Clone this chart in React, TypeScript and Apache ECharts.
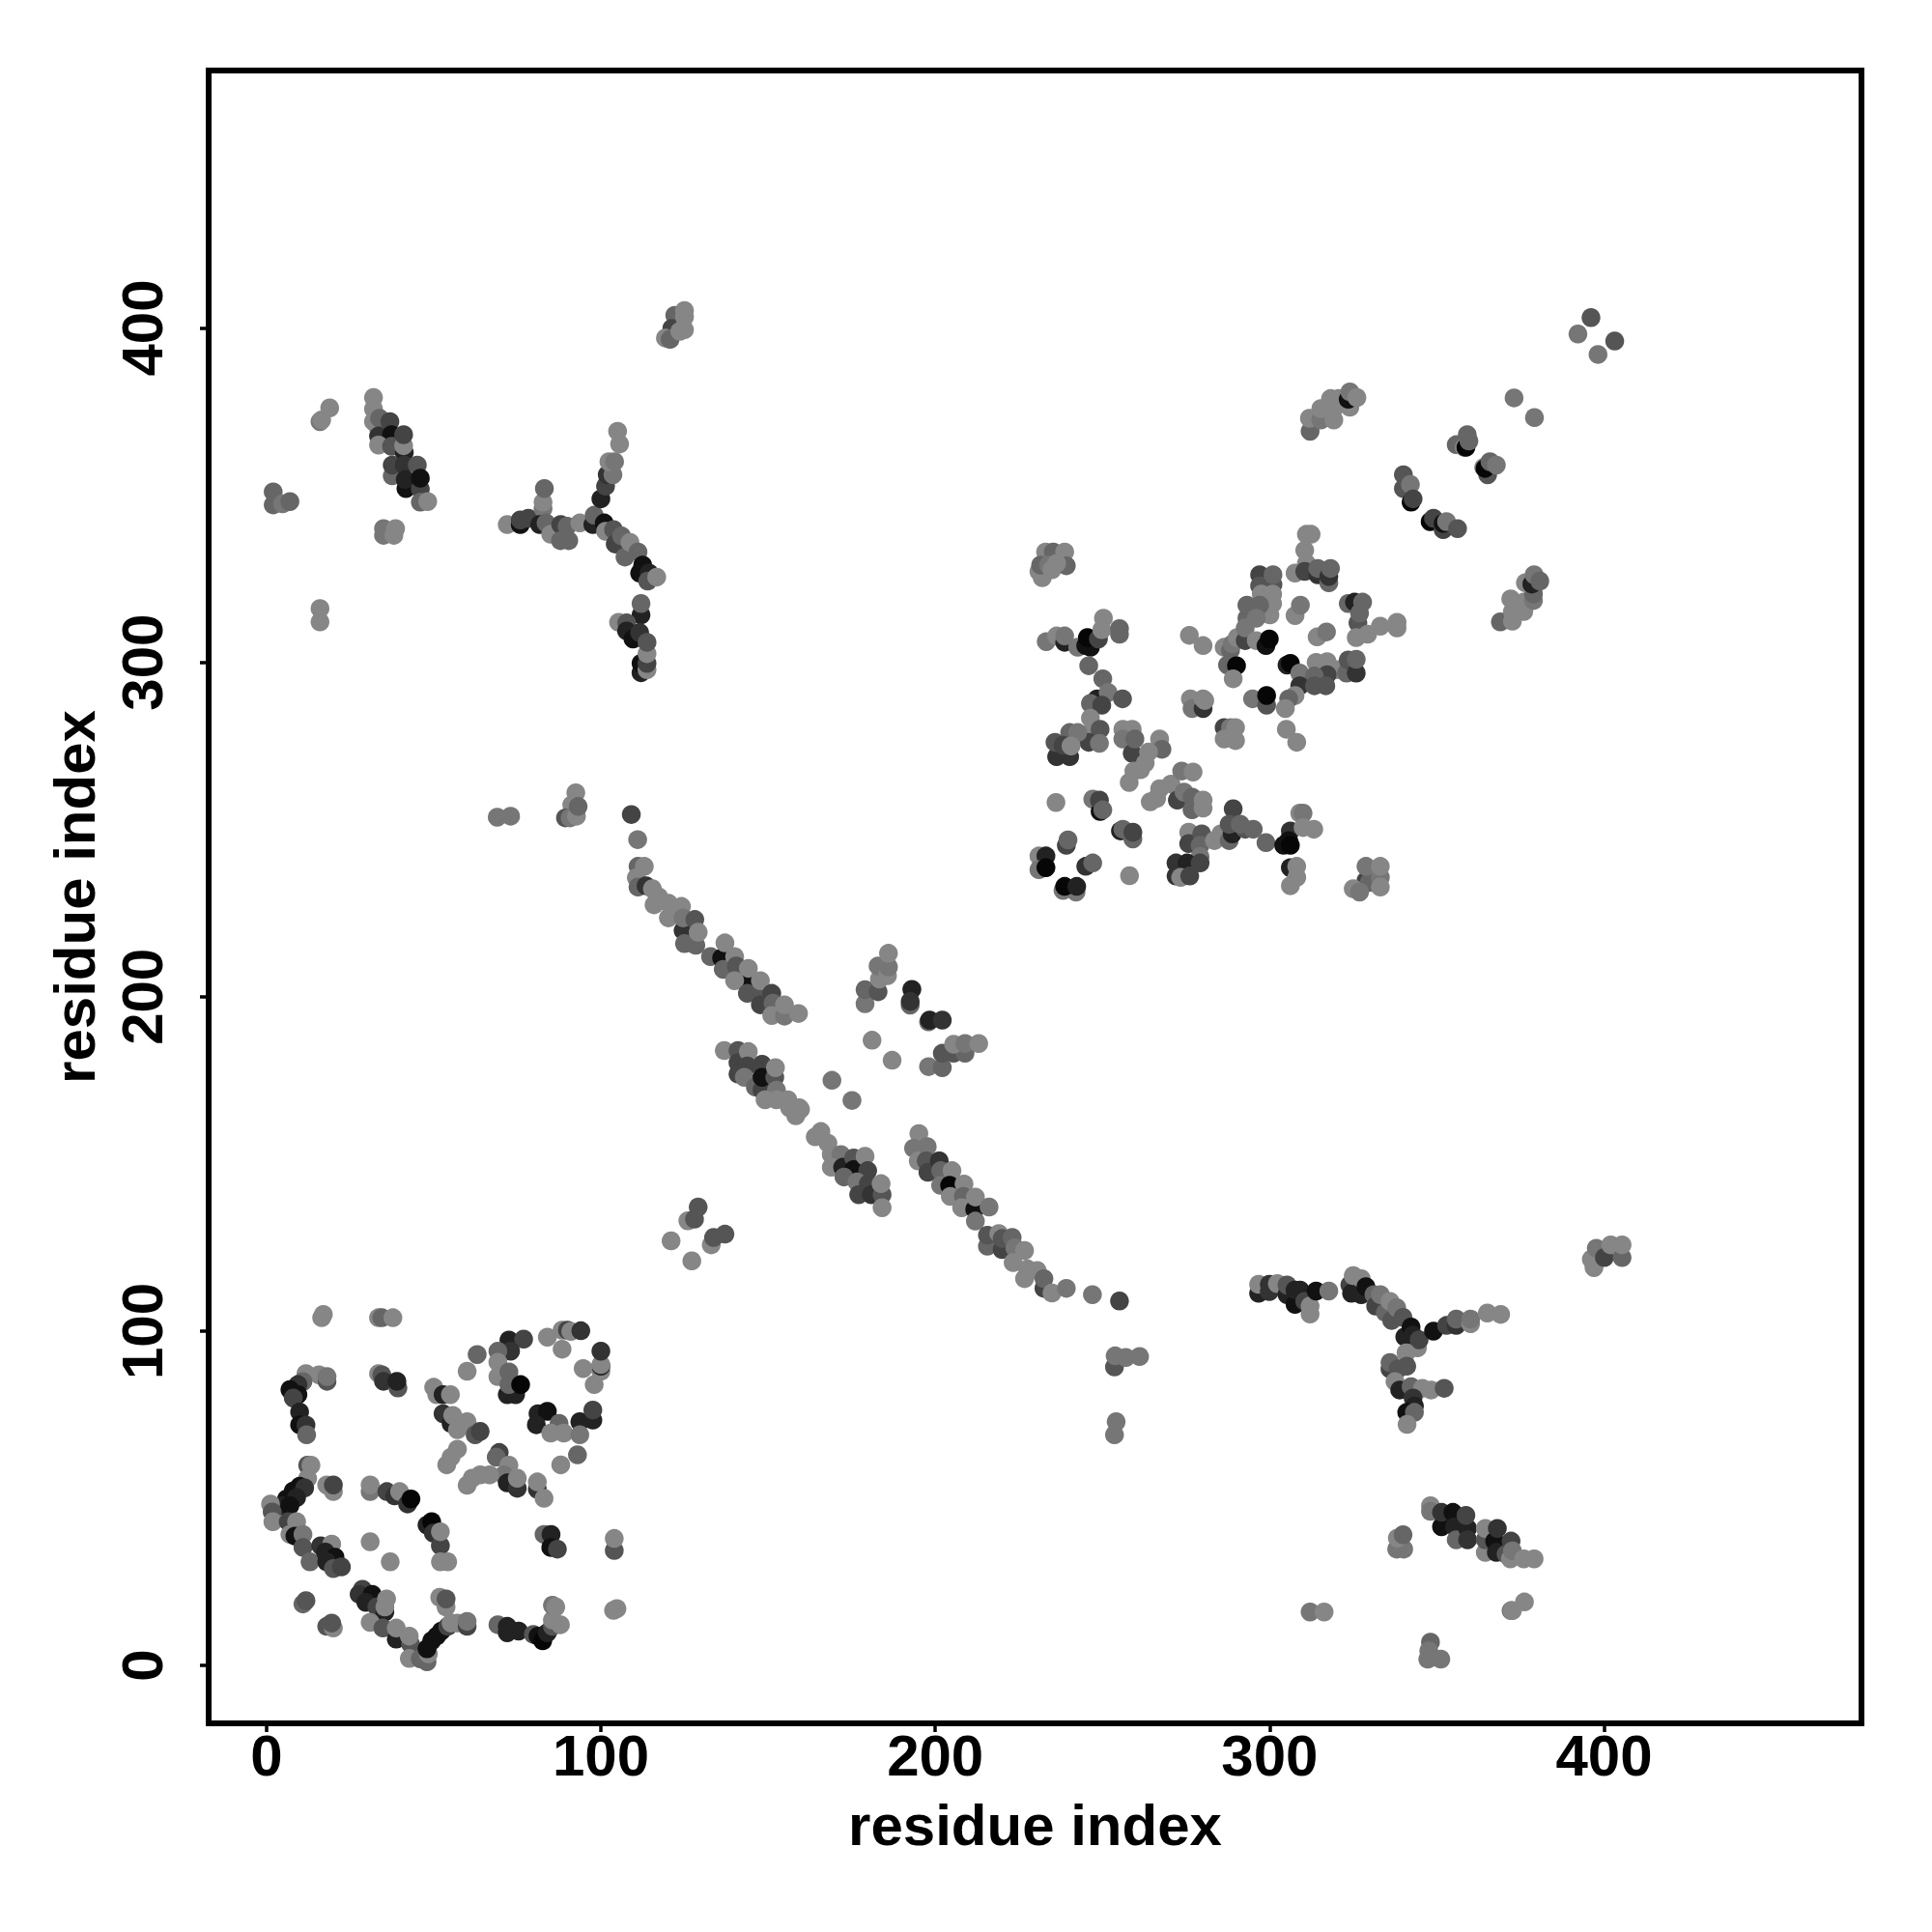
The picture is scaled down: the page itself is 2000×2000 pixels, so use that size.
import React, { useEffect, useRef } from "react";
import * as echarts from "echarts";

// each contact: [residue x, residue y, strength 0 (weak) .. 8 (strong)]
type C = [number, number, number];

const tickValues = [0, 100, 200, 300, 400];
const axisTitle = "residue index";
const shades = ["#868686", "#767676", "#666666", "#555555", "#444444", "#333333", "#222222", "#111111", "#060606"];

const lowerLeft: C[] = [
[16.5,104,0],[17,105,0],[33.5,104,0],[34.5,104,2],[37.8,104,0],
[15.7,86.9,0],[11.8,87.3,0],[10.9,84.9,2],[9.4,84,5],[7,82.5,7],[9.4,81,7],[8,80,4],[9.9,75.8,6],[9.9,72,7],[11.8,71.9,5],[12,69,2],[18.1,85,3],[18.1,86.4,1],
[33.5,87.3,0],[34.5,86.9,3],[35,85,5],[39.3,83,3],[39,85,6],
[50,83.2,0],[50.9,81,0],[52.8,81,6],[55,81,0],[52.8,75.3,5],[55.2,72.4,6],[55.7,74.8,0],[60,72.9,0],[57.1,70.5,0],[62.4,69,3],[63.9,70,4],[57.1,64.7,0],[55.2,62.3,0],[53.9,60,0],
[69.6,63.7,4],[68.7,62.3,2],[72.5,59.9,0],[71,57,1],[63.9,57,0],[61.5,56,0],[60,53.9,0],[66.7,57,0],[72,54.6,6],[75,53,5],[75,56,0],[81,52.7,5],[81,54.9,0],[83,50,0],
[72.5,97.3,6],[76.9,97.6,4],[73,94,5],[69.2,94,2],[63,93,2],[60,88,0],[69.2,90.7,0],[69.2,86.4,0],[72.5,87.8,2],[72,81,6],[74.5,81,6],[72.5,84,2],[76,84,8],
[84,98.2,0],[88.4,100.3,0],[90,100.3,4],[91,99.9,0],[94,100.1,5],[88.4,94.6,0],[100,88,0],[100,89.5,6],[100,90,0],[100,94,5],[94.7,88.8,0],[98,84,0],
[81.2,75.3,6],[84,76,7],[80.7,72,6],[87.5,72.4,2],[85,69.5,0],[88.9,69.5,0],[93.7,72.9,6],[97.6,73.4,6],[97.6,76.4,4],[93.7,69,1],[93,63,2],[88,60,0],
[12.3,59.9,3],[13.3,59.9,0],[12.3,56,0],[9.9,53.6,7],[8,52.2,7],[6,49.8,7],[4.6,47.8,6],[11.4,53.1,5],[9,50.2,6],[7,47.8,7],[1.2,48.3,0],[1.7,45.9,3],[1.9,43,0],[6.5,43,4],[9,43,0],[7,39.2,0],[8.5,38.7,7],[10.9,39.2,1],[10.9,35.3,3],[13,31,2],
[18,54,0],[20,52,0],[20,54,4],
[16.2,35.8,5],[19.5,36.3,0],[17.6,33.9,6],[20.5,32.4,7],[18,31,6],[20,29,3],[22.4,29.5,4],
[31,37,0],[37,31,0],[31,52,1],[31,54,0],[36,52,4],[38.3,50.7,5],[39.8,52,0],[42.2,48.3,5],[43.2,49.8,8],
[48,42,6],[49.4,43,8],[49.9,39.6,5],[52,35.8,4],[52,40,0],[52,31,0],[54.2,31,0],
[83,39.2,2],[85.1,39.2,6],[85,35.3,7],[87,34.8,4],[104,34.4,3],[104,38,0],
[10.9,18.4,2],[11.8,19.4,3],[18,11.7,3],[20,11.2,0],[19.5,12.7,3],
[28.7,22.8,4],[27.7,21.3,5],[31.6,21.3,7],[29.7,18.9,6],[33,17.5,4],[35.4,16,6],[35.4,17.5,0],[35.9,19.9,0],[31,12.9,0],[34.8,11.2,3],[38.8,7.9,6],[38.8,11.2,0],[43.1,6.4,3],[42.7,8.8,0],[42.7,2.1,0],
[51.8,20.4,0],[53.7,17.5,0],[53.7,19.9,3],
[46,2,2],[48,1.1,2],[48.4,3.5,0],[48,5,7],[49.4,7.4,7],[50.9,8.8,7],[52.3,10.3,7],[54.2,11.7,4],[55.2,12.7,0],[57.1,12.7,0],[60,11.7,4],[60,13.2,1],
[69.2,12.2,2],[72,9.8,6],[72,11.7,6],[75.4,10.3,6],[79.8,9.3,3],[81.2,8.8,7],[82.6,7.4,8],[84,9.8,6],[85.5,11.7,3],[85.5,13.6,0],[87.9,12.2,0],[85.5,18,1],[86.5,17.5,0],[103.8,16.5,0],[104.8,17,0],
];

const upperLeft: C[] = [
[122.1,403.8,2],[125,405.2,0],[121.2,399.9,4],[119.3,397,0],[120.7,396.6,2],[123.6,399,0],[125,403.3,0],[125,399.5,0],
[18.9,376.1,0],[16,372,1],[16.5,372.5,0],
[32,379.2,0],[32,375.8,0],[32,372,0],[33.5,370,0],[33.8,373,2],[36.9,372,4],[33.5,367.7,5],[37.4,368.1,7],[33.5,365,0],[37.4,364.6,3],[41.2,362.8,6],[41,364.8,0],[41,368.1,4],
[37.6,355.8,2],[37.6,359,4],[41.2,359,5],[41.7,352,7],[41.5,354.7,6],[46,351.8,4],[45.1,359,3],[46,355.1,7],[46,347.9,2],[48.2,348.1,0],
[2,351,2],[2,347.1,2],[4.8,347.4,1],[7,348.1,2],
[35,340,1],[35,338,1],[38.1,338,0],[38.6,340,0],[16,316.1,0],[16,312.1,0],
[72,341.2,0],[75.9,341.2,7],[75.9,342.6,4],[78.3,343.1,4],[82.7,346,1],[82.7,347.9,0],[83.1,352,2],[81.7,341.2,6],[83.6,341.7,2],[85,338.3,0],[88,341.2,4],[87.9,336.4,2],[90.4,336.4,2],[89.9,340.7,2],
[93.7,341.7,0],[97.6,341.2,6],[98,344,2],[101,341.7,7],[100,348.9,6],[101.4,352.7,4],[101.9,356.1,5],[103.6,356.1,1],[102.4,360,0],[104.1,360,1],[105.6,365.3,0],[105,369.1,0],
[101.4,339.2,0],[103.8,339.7,3],[104.3,335.4,4],[106.2,337.8,2],[107.2,331.5,2],[108.7,335.9,0],[111.1,333,2],[112.5,329.1,7],[111.6,326.7,7],[114.4,326.7,6],[114,324.3,3],[116.7,325.5,0],
[112,314.2,6],[112,317.6,2],[105.3,312,0],[107.7,311.8,3],[107.7,309.4,6],[109.6,307,7],[111.6,308.9,5],[112,296.9,6],[112,299.7,7],[113.8,297.8,0],[113.8,299.7,4],[113.8,302.6,0],[113.8,306,3],
];

const centralBands: C[] = [
[69,253.7,1],[73,254,1],[92.5,261,0],[91.3,257.4,0],[89.4,253.5,3],[90.8,253.5,1],[92.7,254,0],[93.2,256.9,2],[109.1,254.5,4],[111,247,1],
[111.1,239,2],[113,239,0],[110.6,235.6,0],[111.1,232.8,2],[113.5,233.2,5],[115.4,232.3,0],[117.3,229.9,0],[115.9,227.5,0],[120.2,228,0],[120.2,223.6,0],[124.1,227,0],[124.6,219.8,5],[124.6,223.6,1],[128.1,223.1,3],[125,215.9,2],[128.4,215.4,2],[129.1,219.3,0],
[132.8,212,2],[136.1,211.6,7],[136.6,208.2,2],[137.1,216.1,0],[140,212,0],[140.5,209.2,3],[143.4,204.3,7],[140,204.8,0],[144.1,208.5,0],[143.8,201,3],[146.7,201,3],[147.7,204.8,0],[151.1,201,4],[147.7,197.6,4],[151.5,198.1,2],[151.1,194.4,0],[154.9,194.2,1],[154.9,197.6,0],[159.1,195,0],
[136.9,183.9,0],[141,183.9,3],[141,180.3,4],[141,176.9,4],[144.1,183.6,0],[143.8,179.3,4],[142.9,175.9,1],[148.2,179.8,4],[146.2,173,2],[148.2,172.1,4],[148.2,175.9,7],[152,175.9,3],[152.2,178.8,0],[152.5,172.1,1],[149.1,169.2,0],[152.5,169.2,0],[155.9,169.2,0],[156.4,166.8,0],[158.3,164.4,0],[159.3,166.8,0],[159.7,166.3,0],
[169.1,175,1],[175.1,169,1],[181.1,187,0],[187.1,181,0],
[165.8,159.7,0],[164.1,158.1,0],[167.9,156.2,0],[168.9,152.8,0],[171.8,152.8,1],[168.9,149,0],[172.3,149,6],[175.6,151.8,3],[175.6,148.3,7],[172.7,146.1,2],[179,152.3,0],[179.8,148,4],[176.6,144.6,1],[180,144.1,4],[177.1,140.8,4],[180.9,140.8,5],[184.1,140.8,3],[183.8,144.1,0],[184.1,136.9,0],
[195.1,159.1,0],[193.5,154.7,1],[194.9,150.9,0],[197.6,155.2,1],[197.3,150.9,3],[197.8,147.5,4],[201.2,150.9,5],[201.6,148,2],[205,148,0],[201.6,143.6,1],[204.3,143.6,8],[204.5,140.3,0],[208.6,144,0],[208.4,140.3,2],[207.9,136.9,0],[211.8,136.4,7],[212,140.1,0],[216.1,137.1,1],[212,132.9,1],
[215.6,125.4,2],[215.6,128.7,3],[219,129.2,0],[220,124.4,4],[220,127.7,3],[223,128,2],[223.8,124.9,1],[223.3,120.5,0],[226.7,124.1,0],[227.6,118.6,0],[226.7,115.7,0],[230.5,118.1,0],[232.5,112.8,4],[232.5,115.7,2],[234.9,111.4,0],[239.2,112.8,1],
[247,110.9,1],[255.1,109,4],[253.6,89.3,3],[253.8,92.6,1],[257,92.1,1],[261.1,92.4,1],[254.1,72.9,1],[253.6,69,1],
[129.1,137.1,3],[126,133,0],[128,133.5,3],[133,125.8,0],[133.7,128,3],[137.1,129,3],[121,127,0],[127.2,121,0],
[179,197.9,1],[179,202.1,2],[182.9,201.5,3],[183.3,205.3,0],[182.9,209.2,1],[185.7,206.3,0],[186,208.9,1],[186,213,0],
[192.5,197.5,2],[193,202.2,6],[192.5,198.6,5],[198,192.5,2],[198.3,193,6],[202.1,193,5],
[198,179.1,1],[202.1,178.8,2],[202.1,183.1,3],[205.5,183.1,3],[208.9,183.1,2],[205.5,185.8,0],[208.9,186,1],[213,186,0],
];

const upperRight: C[] = [
[233,333,0],[235.3,333,2],[238.7,333,0],[231,327.2,0],[232,325.3,0],[231.5,329.1,2],[233.9,329.1,1],[234.9,327.7,0],[239.2,328.9,2],[236.3,329.6,0],
[233.2,306.2,1],[236.3,307.9,0],[238.7,306,6],[238.7,307.9,1],[242.6,304.5,1],[245,305,7],[246.4,304.5,7],[245.5,307.4,8],[248.8,307,4],[249.8,309.8,0],[250.3,313.2,0],[255.1,308.4,2],[255.1,310.1,2],[245.9,299,2],
[250.1,295.1,2],[248.4,289.1,6],[251.7,291,1],[256,289.1,3],[246.4,287.7,2],[249.8,287.2,4],[246.4,283.3,0],[246.4,279,0],[249.3,280,3],[245.9,276.1,4],[249.1,275.8,1],[240.2,279,2],[242.6,279,1],[236.3,271.8,5],[240.2,271.8,5],[235.8,276.1,3],[238.2,275.2,4],[240.6,275,0],
[256.1,280,0],[258.9,280,0],[256.1,277.1,1],[258.9,272.8,4],[259.7,277.1,2],[267.1,277.1,0],[267.8,274,2],[263.8,273.2,0],[262.8,269.9,0],[261.4,267.9,0],[259.4,267.5,0],[258,264.1,0],
[264.3,258.3,0],[266.2,259.3,0],[267.1,262.2,0],[270.5,263.6,0],[272.4,258.8,4],[273.7,267.5,1],[274.4,261.2,1],[277.1,267.2,0],[276.8,255.9,2],[276.8,259.7,2],[280.1,258.8,0],[280.1,256.4,0],
[236.1,258.1,0],[247.1,259.1,1],[249.3,255.4,7],[249.1,258.8,4],[250.1,255.9,2],
[255.4,249.6,6],[256.1,250.1,2],[259.1,247.2,2],[259.1,249.2,4],[239.2,245.3,4],[239.7,246.9,2],
[231,242.1,0],[233.1,242.1,6],[231,238,1],[233.1,238.6,8],[245,239,5],[247.1,240,2],[238.2,231.8,1],[242.1,231.3,1],[238.7,233,8],[242.3,233,6],[258.1,236.2,0],
[275.8,249.2,0],[275.8,245.8,4],[279.7,248.7,3],[279.2,245.3,2],[279.2,241.9,1],[283.5,246.7,0],[272,240,5],[275.3,240,6],[279.2,240,4],[272,236.1,5],[273.4,235.7,0],[276.1,236.1,4],
[289.1,256.2,4],[285.4,248.7,0],[287.9,246.7,2],[288.8,248.7,6],[287.9,251.6,3],[292.7,250.1,3],[291.2,251.6,2],[295.1,250.1,2],[298.9,246.1,2],
[309,254.9,0],[310,254.9,1],[306.2,249.6,5],[305.7,246.7,7],[304.2,245.3,7],[306.2,245.3,8],[310,250.6,0],[313.2,250.1,0],[306.2,238.6,6],[308.1,239,0],[308.1,235.7,0],[306.2,233.2,0],
[328.8,234.7,4],[329.8,234.2,2],[325,232.3,0],[326.9,231.3,1],[328.8,239,1],[333.1,235.7,1],[333.1,232.8,0],[333.1,239,0],
[311,338.3,0],[312.4,338.3,0],[310.5,333.5,0],[311,329.6,0],[307.6,326.7,0],[310.5,327.2,4],[314.4,326.2,5],[314.4,328.1,2],[317.7,323.8,2],[317.7,325.7,5],[318.2,328.1,2],
[297,326.2,4],[297,322.9,3],[301,323.3,3],[301,326.2,2],[297.5,320.4,0],[300.9,320.4,0],[300.9,317.6,0],[300.1,314.2,0],[293.2,313.2,2],[293.2,317.1,2],[297,317.1,2],[296,313.2,1],[307.6,314,0],[309.2,317.1,1],
[314.2,307.6,0],[317,309.1,1],
[323.5,317.6,2],[325.4,318,6],[326.4,311.8,3],[326.9,314.7,2],[327.8,318,2],[325.9,307.4,0],[329.3,308.4,0],[333.1,310.8,0],[338.1,310.3,0],[338.1,312,0],
[276,308.1,0],[280.1,305,0],
[286.4,304.5,0],[288.3,303.6,2],[288.8,305.5,1],[290.3,307.4,0],[292.7,306.5,4],[292.7,310.3,1],[296,306.5,0],[298.9,305,7],[299.9,307,8],
[287.4,299.2,2],[290.1,299,8],[289.1,295.1,0],
[305.2,299.2,6],[306.2,299.7,8],[309,296.8,1],[313.9,300,0],[317.2,300.2,0],[320.1,297.8,0],[323,296.8,2],[323.5,300.7,3],[325.9,296.8,5],[325.9,300.9,2],[317.2,296.3,4],[313.4,295.9,2],[309,293,5],[313.4,293,3],[316.8,293,3],[307.6,290.1,0],[305.7,289.1,2],[304.7,286.2,0],
[294.9,289.1,1],[299.1,287.2,3],[299.1,290.1,8],
[276.3,289.1,0],[276.8,286.2,1],[280.1,286.2,5],[280.1,289.1,0],[280.6,288.6,0],
[286.4,280.5,4],[288.3,280.5,1],[289.8,280.5,0],[286.4,277.1,0],[289.8,276.6,0],[305,280,0],[308.1,276.1,0],
[396.1,403.1,3],[392.2,398.2,1],[403.2,396.1,3],[398.2,392.1,1],[373.1,379.1,1],[379.2,373.2,1],
[312.1,369.1,2],[311.9,373,0],[315.3,372.5,1],[319.2,372.5,0],[315.3,375.9,0],[319.2,375.9,0],[318.2,378.9,0],[320.6,378.9,0],[324,376.3,0],[323.5,378.7,7],[324,380.9,1],[326.1,379.2,0],
[355.8,365.1,2],[358.2,364.3,0],[358.7,364.3,8],[359.1,368.1,2],[359.6,366.2,2],
[365.2,356.1,3],[364,358.3,0],[364.4,358,8],[365.9,360,2],[367.8,359,1],
[340,352,3],[340,356.1,3],[342.1,353.2,1],[342.3,347.9,8],[342.9,348.9,4],[348,342.1,8],[349,343.1,4],[351.9,339.7,4],[351.9,341.6,7],[352.9,342.1,1],[356.2,340,3],
[369,312.1,2],[372.6,312.3,0],[372.6,315.2,0],[376,315.2,0],[372.1,319,0],[376,318,0],[378.9,318.5,1],[378.9,320.5,2],[376.5,323.8,0],[378.4,323.4,6],[379.1,326.2,1],[380.8,324.3,2],
];

const lowerRight: C[] = [
[296.7,111.3,6],[296.7,114,0],[299.9,111.8,5],[299.9,114,5],[302.3,114.2,0],[305.2,110.9,6],[305.2,113.8,3],[307.6,108,7],[307.6,112.3,6],[309.1,112.3,6],[310.5,108.9,4],[312.1,105.1,0],[312.1,107.5,0],[313.9,112,7],[317.7,112,1],
[324,113.8,4],[324.5,111.3,6],[325,116.6,0],[327.4,110.9,6],[327.4,115.7,0],[328.8,113.3,7],[331.2,110.9,2],[331.7,107.5,4],[333.1,110.9,1],[334.6,105.6,2],[336,108.9,0],[336.5,103.2,3],[338,107,1],[339.9,104.1,3],[340.4,98.3,6],[342.3,101.2,7],[344.2,95,0],[342.8,98.8,6],[344.7,97.4,4],[349,100,7],[352.9,101.7,4],[355.8,101.7,5],[355.8,103.6,2],[360.1,102.2,0],[360.1,103.6,1],[365.1,105.4,0],[369.1,105,0],
[340.8,93.5,0],[336,88.7,4],[336,90.6,2],[338.4,88.7,3],[341,89.5,3],[337.5,84.9,0],[338.9,82.4,6],[342.3,83.4,2],[345.7,82.9,0],[348.3,82.4,0],[352.2,82.9,3],[342.9,80,5],[343.3,77.6,6],[341,75.7,7],[343.3,75.7,2],[341.1,72.1,0],
[348.1,47.8,0],[348.1,46.1,1],[351.4,41.5,7],[351.4,45.8,5],[354.8,45.8,7],[355.3,41.5,6],[355.8,37.6,2],[359.2,41,6],[358.7,44.9,4],[359.2,37.6,5],
[364.5,33.8,0],[364.5,37.6,3],[364.5,41,0],[367.3,37.2,7],[367.8,33.8,6],[368.1,41,5],[370.7,33.3,3],[372,31.9,0],[372.2,37.2,4],[372.6,34.3,1],[376,31.9,0],[379.1,31.9,0],
[338,34.8,1],[340.1,34.8,1],[338.2,38.1,0],[339.9,39.1,2],[312.1,16,1],[316.3,16,0],
[372.2,16.4,1],[372.6,16.4,0],[376.2,19,0],[348.1,7,2],[347.6,4.4,1],[347.3,1.9,1],[351.2,1.9,1],
[397,119,0],[396.2,121.5,0],[397.7,124.8,1],[400.1,122,4],[402,125.8,0],[405.4,122,2],[405.4,125.8,0],
];

const contacts: C[] = [...lowerLeft, ...upperLeft, ...centralBands, ...upperRight, ...lowerRight];

const labelStyle = { fontFamily: "Liberation Sans", fontWeight: "bold" as const, fontSize: 60, color: "#000" };

function axis(rotate: number, nameGap: number, margin: number) {
  return {
    type: "value" as const,
    min: -17.3,
    max: 477,
    name: axisTitle,
    nameLocation: "middle" as const,
    nameGap,
    nameTextStyle: { ...labelStyle },
    splitLine: { show: false },
    axisLine: { show: false, onZero: false },
    axisTick: { show: true, length: 9, inside: false, customValues: tickValues, lineStyle: { color: "#000", width: 3.5 } },
    axisLabel: { ...labelStyle, rotate, margin, customValues: tickValues, showMinLabel: true, showMaxLabel: true },
  };
}

export default function App() {
  const ref = useRef<HTMLDivElement>(null);
  useEffect(() => {
    const chart = echarts.init(ref.current!, undefined, { renderer: "svg" });
    chart.setOption({
      animation: false,
      backgroundColor: "#fff",
      grid: { show: true, left: 216, right: 73, top: 73, bottom: 216, borderColor: "#000", borderWidth: 6, backgroundColor: "transparent" },
      xAxis: axis(0, 75, 3),
      yAxis: { ...axis(90, 109, 39), nameRotate: 90 },
      series: [{
        type: "scatter",
        symbol: "circle",
        symbolSize: 19.5,
        progressive: 0,
        large: false,
        clip: true,
        data: contacts,
        encode: { x: 0, y: 1 },
        itemStyle: { opacity: 1, color: (p: any) => shades[p.value[2]] },
      }],
    });
    return () => chart.dispose();
  }, []);
  return <div ref={ref} style={{ position: "absolute", left: 0, top: 0, width: 2000, height: 2000 }} />;
}
